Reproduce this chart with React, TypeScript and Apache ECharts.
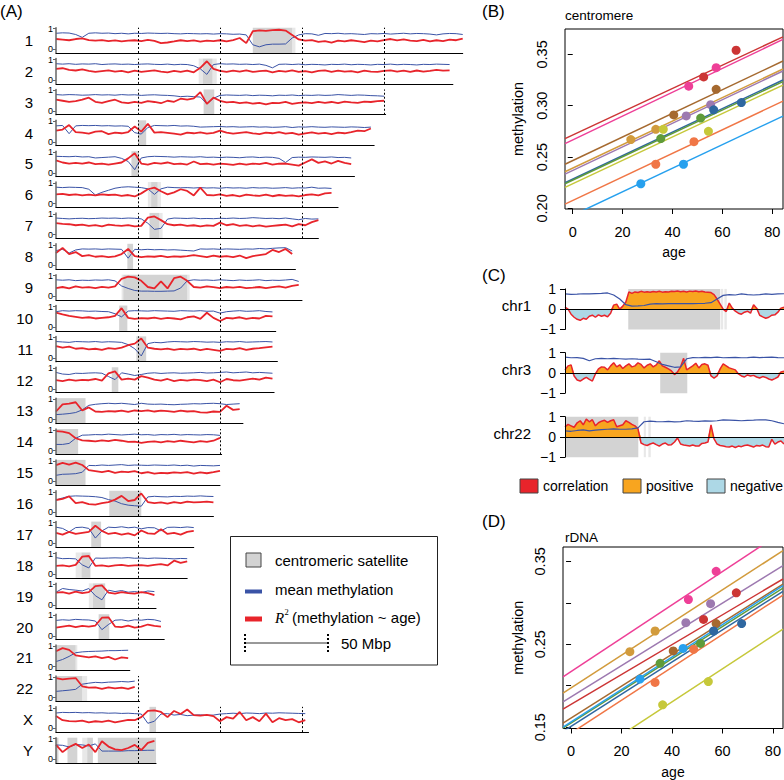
import React, { useEffect, useRef } from 'react';
import * as echarts from 'echarts';

const FONT = '"Liberation Sans", Arial, Helvetica, sans-serif';
const RED = '#e8242b';
const BLUE = '#3a53a6';
const GREY = '#d3d3d3';
const FAINT = '#e8e8e8';
const ORANGE = '#f8a51f';
const LIGHTBLUE = '#add8e6';

// ---------------- Panel A : chromosome tracks ----------------
const chromNames = ['1','2','3','4','5','6','7','8','9','10','11','12','13','14','15','16','17','18','19','20','21','22','X','Y'];
const chromLengthsMbp = [248,242,201,194,182,172,160,146,150,134,135,133,114,101,100,96,84,80,61,66,45,51,154,61];
const binMbp = 4;
const scaleMarksMbp = [50, 100, 150, 200];

// R^2 (methylation ~ age), percent, one value per 4-Mbp bin
const r2Percent: number[][] = [
  [50,47,44,50,53,45,42,45,40,43,38,42,44,40,46,41,30,33,38,44,40,43,37,42,40,44,38,45,55,30,88,92,90,93,95,91,70,48,42,45,36,40,33,42,38,44,40,35,42,38,45,50,43,48,42,40,46,38,44,40,47,44,52],
  [55,58,50,47,52,45,40,44,48,42,45,38,46,40,44,48,42,38,45,40,46,38,60,92,55,45,40,46,42,48,40,44,46,38,45,42,48,40,44,38,45,48,40,46,42,44,38,46,42,40,45,48,42,46,40,47,42,45,50,46,48],
  [55,50,45,48,55,65,45,40,48,55,42,38,45,40,48,44,38,50,45,60,55,62,92,35,65,50,42,45,38,42,36,40,32,40,38,44,35,40,42,38,45,40,44,38,46,42,40,46,44,48,50],
  [55,60,82,48,45,40,50,52,38,45,42,48,75,50,88,45,48,44,40,35,45,42,46,40,44,55,45,40,44,48,42,38,45,42,48,40,44,35,42,46,40,44,38,45,42,48,55,52,65],
  [60,50,45,48,44,50,42,45,40,45,50,70,95,45,40,48,44,50,42,45,40,55,42,44,40,45,42,38,44,40,45,42,48,40,44,45,40,35,50,65,48,55,45,58,48,42],
  [45,48,42,45,40,44,40,45,42,44,38,42,35,50,70,78,60,45,55,70,62,40,78,42,40,45,38,42,35,44,40,38,44,36,42,38,40,35,42,45,40,50,52],
  [55,52,50,45,48,42,46,40,48,44,42,46,40,42,82,88,70,50,45,48,42,45,40,44,42,58,45,50,42,46,40,44,38,42,45,48,40,50,45,60,70],
  [60,85,55,65,45,50,42,45,40,44,55,80,45,40,44,42,46,40,44,42,45,50,45,40,48,42,45,40,48,35,45,50,55,75,65,80,55],
  [40,45,38,48,42,44,40,46,42,48,85,95,92,75,45,38,72,38,88,95,75,45,42,48,44,40,45,42,46,40,42,45,40,44,48,42,50,55],
  [70,62,55,50,45,48,42,45,48,55,92,45,40,44,42,46,40,45,42,38,48,52,40,70,45,30,45,42,48,40,45,42,55,52],
  [58,50,55,45,48,42,45,40,48,44,50,62,70,95,50,45,42,46,40,44,42,45,38,44,40,35,44,42,48,40,45,48,52,55],
  [42,38,45,40,44,42,48,40,75,85,45,50,45,62,55,45,40,48,38,44,40,45,42,38,45,32,48,42,40,45,50,45,55,50],
  [40,75,78,85,45,60,40,38,42,40,44,38,45,42,46,40,44,42,38,44,40,42,36,35,40,38,68,48,52],
  [95,92,85,60,50,48,45,50,46,52,48,42,44,38,42,45,40,46,42,48,44,40,46,42,48,62],
  [80,90,82,92,80,55,50,45,52,42,48,45,50,40,45,38,42,40,44,42,45,38,44,40,45,52],
  [60,65,78,45,50,40,38,45,50,62,80,55,60,92,50,45,48,42,50,45,52,48,50,52,48],
  [50,42,55,45,50,55,85,60,45,50,42,48,38,62,48,45,68,45,50,42,55,60],
  [40,42,38,45,85,88,40,42,38,42,45,40,42,44,40,45,48,42,65,55,62],
  [60,62,55,65,58,62,92,95,60,55,62,58,55,62,58,48],
  [40,45,50,42,48,45,50,88,90,45,42,50,40,45,55,48,45],
  [75,90,82,55,50,45,50,42,48,35,45,42],
  [95,88,92,95,55,48,50,42,50,45,48,42,52],
  [60,40,36,34,38,30,35,32,38,30,36,42,40,55,85,88,80,55,85,70,92,65,62,66,60,35,55,48,80,40,55,35,72,30,50,40,45,30,40],
  [70,35,60,75,55,72,35,88,62,48,45,55,70,45,80,90],
];

// mean methylation, percent, one value per 4-Mbp bin
const methPercent: number[][] = [
  [78,80,79,72,58,78,80,78,79,76,78,75,78,77,79,78,77,78,76,75,77,76,75,76,74,76,75,73,74,70,22,12,22,25,25,26,55,70,76,75,68,77,76,78,75,76,74,72,76,75,77,74,76,78,75,77,76,74,70,75,77,76,72],
  [80,78,80,77,79,78,80,76,78,79,77,78,76,78,79,77,76,78,75,77,76,70,55,28,76,80,78,79,77,78,76,78,72,60,77,78,76,78,75,77,76,74,77,76,78,75,77,76,74,77,76,78,75,77,76,74,77,76,78,77,76],
  [80,78,80,79,77,78,80,78,79,77,80,78,79,76,78,79,77,76,74,70,72,70,68,35,62,76,78,77,76,78,75,77,76,74,77,76,78,75,77,76,78,76,77,80,78,76,78,77,75,74,72],
  [78,80,40,78,80,79,80,78,79,77,78,76,45,38,70,80,79,78,80,77,78,76,72,73,74,75,73,74,72,73,74,72,73,71,72,74,70,73,72,74,72,71,73,72,71,73,72,70,72],
  [80,79,78,80,77,78,72,74,76,78,70,55,15,72,78,80,79,78,76,78,77,76,78,75,76,74,76,75,73,76,77,74,76,75,70,50,74,76,75,77,76,75,77,74,75,72],
  [80,78,80,79,78,70,42,55,65,75,80,82,80,78,72,45,72,80,78,77,78,76,78,76,77,75,78,76,77,75,78,76,77,75,76,78,75,77,76,80,75,76,74],
  [80,78,76,78,79,77,78,80,79,80,78,80,79,76,55,25,30,75,80,79,78,80,77,78,77,79,78,80,78,79,82,80,78,79,77,80,76,72,78,75,76],
  [72,78,60,75,80,79,80,78,80,79,78,35,78,76,78,76,77,75,76,74,72,70,80,79,80,78,80,79,78,80,79,82,80,83,85,86,70],
  [80,78,80,76,78,77,79,78,80,75,50,38,28,25,25,24,24,25,26,40,75,80,78,79,77,80,78,76,79,77,78,80,76,78,77,79,82,72],
  [75,80,78,80,79,77,78,76,75,65,50,78,80,79,78,80,79,78,77,80,79,78,80,77,78,68,75,78,80,77,78,80,76,74],
  [80,78,76,80,79,78,80,77,79,78,76,65,45,10,70,76,74,78,80,79,78,80,79,77,78,76,79,78,80,77,78,79,80,78],
  [80,72,70,76,75,77,78,76,60,45,78,72,65,70,76,78,75,77,78,76,77,78,80,77,78,80,82,78,80,82,78,80,78,76],
  [25,27,30,35,48,70,75,78,80,78,80,77,74,80,76,75,76,74,73,75,76,78,77,79,80,78,74,76,78],
  [30,30,35,60,75,76,78,77,80,78,76,78,80,77,78,75,78,77,79,76,78,77,76,78,77,74],
  [30,35,36,38,45,78,77,80,78,80,82,78,80,79,78,80,79,78,80,77,79,75,78,77,76,78],
  [60,70,78,80,79,78,76,72,62,55,42,35,32,30,75,78,76,75,78,77,79,78,80,78,77],
  [78,72,55,76,78,72,25,60,78,76,80,75,78,70,76,75,60,77,78,76,79,76],
  [80,75,76,74,45,30,78,77,78,79,78,80,77,78,76,78,77,76,74,76,75],
  [62,80,75,72,68,80,45,25,72,65,70,62,65,60,68,65],
  [75,78,76,80,78,77,72,30,55,76,78,72,78,76,80,78,70],
  [25,35,50,68,72,74,75,76,78,78,79,80],
  [30,33,36,40,65,70,74,72,75,76,78,76,80],
  [75,78,77,78,76,77,75,76,74,75,73,74,72,70,25,35,70,72,65,68,62,65,66,64,65,70,72,74,72,75,74,72,75,74,76,75,74,73,72],
  [70,68,60,72,70,65,75,40,40,40,40,42,42,43,44,44],
];

// centromeric satellite intervals (Mbp)
const satellites: number[][][] = [
  [[120,144]],[[89.5,95.5]],[[90,96.5]],[[50,55]],[[46,50.5]],[[58,62]],[[57,63]],[[43.5,47]],
  [[41,80]],[[38.5,43.5]],[[49,55]],[[34,38]],[[0,18]],[[0,13.5]],[[0,18]],[[32.5,52]],
  [[21.5,27.5]],[[15.5,21]],[[22.5,30]],[[26,32.5]],[[0,12]],[[0,16]],[[57,61]],
  [[0,1.5],[7,13],[19,22.5],[25.5,61]],
];
const satellitesFaint: number[][][] = [
  [[144,146]],[[87,89.5],[95.5,98]],[],[],[],[[56,58],[62,64]],[[63,65]],[],
  [[40,41],[80,81.5]],[],[],[],[],[],[],[],
  [],[[12,15.5]],[[20,22.5]],[],[[12,13]],[[16,19]],[],
  [[16,19]],
];

// ---------------- Panels B & D : individuals ----------------
const individualColors = ['#cc3535','#ee3f97','#a5692f','#d29b3c','#9d79b0','#2f67a0','#5f9b3a','#c6c83a','#f07646','#26a0ee'];
const sampleAges = [[52.5,65.5],[46.5,57.5],[40.5,57.5],[23.3,33.3],[45.5,55.3],[56.5,67.6],[35.3,51.3],[36.3,54.4],[33.3,48.6],[27.3,44.4]];
const centromereMeth = [[0.328,0.354],[0.319,0.337],[0.291,0.316],[0.267,0.277],[0.290,0.301],[0.296,0.303],[0.268,0.288],[0.277,0.275],[0.243,0.265],[0.224,0.243]];
const centromereFitAtEdges = [[0.268,0.367],[0.263,0.3646],[0.243,0.3435],[0.2357,0.3357],[0.2334,0.3338],[0.225,0.325],[0.224,0.3235],[0.2205,0.3201],[0.2042,0.3045],[0.1897,0.2899]];
const rdnaMeth = [[0.280,0.312],[0.304,0.338],[0.242,0.275],[0.241,0.266],[0.276,0.299],[0.266,0.275],[0.227,0.251],[0.177,0.205],[0.204,0.244],[0.208,0.245]];
const rdnaFitAtEdges = [[0.1717,0.3287],[0.2108,0.3859],[0.1548,0.3226],[0.1910,0.3629],[0.1806,0.3448],[0.1448,0.3138],[0.1488,0.3178],[0.0944,0.2683],[0.1365,0.3094],[0.150,0.3206]];
const ageTicks = [0, 20, 40, 60, 80];
const centTicks = [0.20, 0.25, 0.30, 0.35];
const rdnaTicks = [0.15, 0.20, 0.25, 0.30, 0.35];
const rdnaLabelTicks = [0.15, 0.25, 0.35];

// ---------------- Panel C : zoomed regions ----------------
const cRegionNames = ['chr1', 'chr3', 'chr22'];
const cCorrelationPct: number[][] = [
  [10,0,-25,-40,-50,-55,-45,-50,-35,-30,-40,-28,-35,-30,-38,-20,20,25,0,15,35,85,78,85,82,88,84,86,83,87,85,88,84,86,85,88,87,90,86,88,85,89,87,90,86,88,85,84,82,72,50,25,0,-12,30,5,-10,-20,-25,-15,-10,-20,22,5,-30,-38,-45,-40,-30,-28,-15,5,10],
  [15,35,40,-15,-35,-40,-30,-22,-32,-40,-5,20,30,28,15,35,50,30,40,22,35,45,30,35,50,42,25,38,45,30,40,60,35,28,20,10,-8,5,30,72,15,25,35,48,25,42,45,38,-15,-25,-15,20,45,35,25,20,15,-5,-15,-20,-10,-15,-12,-20,-25,-18,-22,-30,-35,-28,-20,5,8],
  [50,62,55,48,70,80,60,88,75,85,55,70,78,82,72,80,85,50,55,60,80,72,62,55,40,-30,-38,-42,-35,-30,-38,-45,-35,-30,-40,-38,-25,-5,-35,-40,-42,-45,-40,-45,-45,-32,-30,-25,60,-10,-35,-42,-45,-48,-50,-45,-52,-45,-48,-42,-40,-45,-50,-42,-45,-40,-48,-50,-12,-35,-25,-20,-35],
];
const cMethPct: number[][] = [
  [75,73,74,76,75,77,78,80,70,50,22,15,16,18,25,27,26,27,28,27,28,27,28,29,32,50,68,72,70,75,72,70,72,75,73,75,76],
  [78,75,76,72,60,70,72,70,72,70,68,70,68,67,68,55,42,35,28,30,70,76,75,77,76,78,75,76,77,75,76,78,76,77,78,76,75],
  [30,28,32,35,30,34,36,38,40,38,38,40,45,75,78,76,75,77,74,76,80,78,77,79,78,80,84,83,82,80,82,83,85,84,80,72,65],
];
const cSatellites: number[][][] = [[[20.8,51]], [[31.3,40.2]], [[0,24.1]]];
const cSatellitesFaint: number[][][] = [[[51.2,52],[52.4,53.2]], [], [[25.9,26.6],[27.4,28.2]]];

function buildOption() {
  const grid: any[] = [];
  const xAxis: any[] = [];
  const yAxis: any[] = [];
  const series: any[] = [];
  const graphic: any[] = [];

  const txt = (x: number, y: number, text: string, size: number, extra: any = {}) => ({
    type: 'text', x, y, z: 100, silent: true,
    style: { text, fontSize: size, fontFamily: FONT, fill: '#000', align: 'left', verticalAlign: 'middle', ...extra },
  });

  // ---- Panel A
  const A_LEFT = 56, PX_PER_MBP = 1.64, FIRST_BOTTOM = 53, PITCH = 30.87, H = 25.3;
  chromLengthsMbp.forEach((L, k) => {
    const bottom = FIRST_BOTTOM + k * PITCH;
    grid.push({ left: A_LEFT, top: bottom - H, width: L * PX_PER_MBP, height: H, outerBoundsMode: 'none' });
    xAxis.push({
      gridIndex: k, type: 'value', min: 0, max: L, z: 5,
      axisLine: { show: true, onZero: false, lineStyle: { color: '#000', width: 1 } },
      axisTick: { show: false }, axisLabel: { show: false }, splitLine: { show: false },
    });
    yAxis.push({
      gridIndex: k, type: 'value', min: -0.18, max: 1.05, z: 5,
      axisLine: { show: true, lineStyle: { color: '#666', width: 1.5 } },
      axisTick: { show: true, customValues: [0, 1], length: 3, lineStyle: { color: '#666' } },
      axisLabel: { show: true, customValues: [0, 1], fontSize: 9, margin: 3, color: '#000', fontFamily: FONT },
      splitLine: { show: false },
    });
    const areas = [
      ...satellitesFaint[k].map(([a, b]) => [{ xAxis: a, itemStyle: { color: FAINT } }, { xAxis: b }]),
      ...satellites[k].map(([a, b]) => [{ xAxis: a, itemStyle: { color: GREY } }, { xAxis: b }]),
    ];
    series.push({
      type: 'line', xAxisIndex: k, yAxisIndex: k, silent: true, symbol: 'none', z: 2,
      data: methPercent[k].map((v, i) => [i * binMbp, v / 100]),
      lineStyle: { color: BLUE, width: 1 },
      markArea: { silent: true, data: areas },
      markLine: {
        silent: true, symbol: 'none', label: { show: false },
        lineStyle: { color: '#000', width: 1, type: [2, 2] },
        data: scaleMarksMbp.filter((m) => m < L).map((m) => ({ xAxis: m })),
      },
    });
    series.push({
      type: 'line', xAxisIndex: k, yAxisIndex: k, silent: true, symbol: 'none', z: 3,
      data: r2Percent[k].map((v, i) => [i * binMbp, v / 100]),
      lineStyle: { color: RED, width: 1.8 },
    });
    graphic.push(txt(33, bottom - 12.5, chromNames[k], 15, { align: 'right' }));
  });

  // ---- Panels B and D
  const scatterPanel = (gi: number, box: any, xr: number[], yr: number[], yTicks: number[], yLabels: number[],
    meth: number[][], fits: number[][], nameGapY: number) => {
    grid.push({ ...box, show: true, borderColor: '#000', borderWidth: 1, outerBoundsMode: 'none' });
    xAxis.push({
      gridIndex: gi, type: 'value', min: xr[0], max: xr[1],
      axisLine: { show: false },
      axisTick: { show: true, customValues: ageTicks, length: 5, lineStyle: { color: '#000' } },
      axisLabel: { show: true, customValues: ageTicks, fontSize: 14.5, margin: 15, color: '#000', fontFamily: FONT },
      splitLine: { show: false },
      name: 'age', nameLocation: 'middle', nameGap: 36,
      nameTextStyle: { fontSize: 14, color: '#000', fontFamily: FONT },
    });
    yAxis.push({
      gridIndex: gi, type: 'value', min: yr[0], max: yr[1],
      axisLine: { show: false },
      axisTick: { show: true, customValues: yTicks, length: 5, lineStyle: { color: '#000' } },
      axisLabel: { show: true, customValues: yLabels, rotate: 90, fontSize: 14.5, margin: 16, color: '#000', fontFamily: FONT,
        formatter: (v: number) => v.toFixed(2) },
      splitLine: { show: false },
      name: 'methylation', nameLocation: 'middle', nameGap: nameGapY, nameRotate: 90,
      nameTextStyle: { fontSize: 14.5, color: '#000', fontFamily: FONT },
    });
    individualColors.forEach((c, j) => {
      series.push({
        type: 'line', xAxisIndex: gi, yAxisIndex: gi, silent: true, symbol: 'none', z: 2,
        data: [[xr[0], fits[j][0]], [xr[1], fits[j][1]]],
        lineStyle: { color: c, width: 1.5 },
      });
      series.push({
        type: 'scatter', xAxisIndex: gi, yAxisIndex: gi, silent: true, z: 3,
        data: sampleAges[j].map((a, i) => [a, meth[j][i]]),
        symbolSize: 9, itemStyle: { color: c, opacity: 1 },
      });
    });
  };
  scatterPanel(24, { left: 565, top: 29, width: 218, height: 180 }, [-3.1, 84.3], [0.1994, 0.3747],
    centTicks, centTicks, centromereMeth, centromereFitAtEdges, 40);
  scatterPanel(25, { left: 563, top: 547, width: 220, height: 181.5 }, [-3.2, 84.0], [0.1484, 0.3673],
    rdnaTicks, rdnaLabelTicks, rdnaMeth, rdnaFitAtEdges, 38);

  // ---- Panel C
  const cTops = [288.9, 352.7, 416.7];
  cRegionNames.forEach((name, r) => {
    const gi = 26 + r;
    grid.push({ left: 565, top: cTops[r], width: 219, height: 40.5, outerBoundsMode: 'none' });
    xAxis.push({
      gridIndex: gi, type: 'value', min: 0, max: 72, z: 5,
      axisLine: { show: true, onZero: true, lineStyle: { color: '#000', width: 1 } },
      axisTick: { show: false }, axisLabel: { show: false }, splitLine: { show: false },
    });
    yAxis.push({
      gridIndex: gi, type: 'value', min: -1, max: 1, z: 5,
      axisLine: { show: true, lineStyle: { color: '#000', width: 1 } },
      axisTick: { show: true, customValues: [-1, 0, 1], length: 5, lineStyle: { color: '#000' } },
      axisLabel: { show: true, customValues: [-1, 0, 1], fontSize: 14, margin: 9, color: '#000', fontFamily: FONT,
        formatter: (v: number) => (v < 0 ? '\u22121' : String(v)) },
      splitLine: { show: false },
    });
    const vals = cCorrelationPct[r];
    const areas = [
      ...cSatellitesFaint[r].map(([a, b]) => [{ xAxis: a, itemStyle: { color: FAINT } }, { xAxis: b }]),
      ...cSatellites[r].map(([a, b]) => [{ xAxis: a, itemStyle: { color: GREY } }, { xAxis: b }]),
    ];
    series.push({
      type: 'line', xAxisIndex: gi, yAxisIndex: gi, silent: true, symbol: 'none', z: 2,
      data: vals.map((v, i) => [i, Math.max(v, 0) / 100]),
      lineStyle: { width: 0, opacity: 0 }, areaStyle: { color: ORANGE, opacity: 1 },
      markArea: { silent: true, data: areas },
    });
    series.push({
      type: 'line', xAxisIndex: gi, yAxisIndex: gi, silent: true, symbol: 'none', z: 2,
      data: vals.map((v, i) => [i, Math.min(v, 0) / 100]),
      lineStyle: { width: 0, opacity: 0 }, areaStyle: { color: LIGHTBLUE, opacity: 1 },
    });
    series.push({
      type: 'line', xAxisIndex: gi, yAxisIndex: gi, silent: true, symbol: 'none', z: 3,
      data: vals.map((v, i) => [i, v / 100]),
      lineStyle: { color: RED, width: 1.5 },
    });
    series.push({
      type: 'line', xAxisIndex: gi, yAxisIndex: gi, silent: true, symbol: 'none', z: 4,
      data: cMethPct[r].map((v, i) => [i * 2, v / 100]),
      lineStyle: { color: BLUE, width: 1.2 },
    });
    graphic.push(txt(531, cTops[r] + 16.5, name, 15, { align: 'right' }));
  });

  // ---- Panel labels / titles
  graphic.push(txt(0, 11, '(A)', 17));
  graphic.push(txt(482, 11, '(B)', 17));
  graphic.push(txt(565, 15, 'centromere', 13.5));
  graphic.push(txt(482, 275, '(C)', 17));
  graphic.push(txt(482, 521, '(D)', 17));
  graphic.push(txt(565, 537, 'rDNA', 13.5));

  // ---- Legend of C
  const cLeg = [[520, RED, 'correlation'], [623, ORANGE, 'positive'], [707, LIGHTBLUE, 'negative']] as [number, string, string][];
  cLeg.forEach(([x, c, t]) => {
    graphic.push({ type: 'rect', z: 100, silent: true, shape: { x, y: 479, width: 18, height: 14 }, style: { fill: c, stroke: '#444', lineWidth: 1 } });
    graphic.push(txt(x + 23, 486, t, 14));
  });

  // ---- Legend of A
  graphic.push({ type: 'rect', z: 90, silent: true, shape: { x: 230.5, y: 536.5, width: 207, height: 128.5 }, style: { fill: '#fff', stroke: '#222', lineWidth: 1 } });
  graphic.push({ type: 'rect', z: 100, silent: true, shape: { x: 246, y: 553, width: 15, height: 14 }, style: { fill: GREY, stroke: '#444', lineWidth: 1 } });
  graphic.push(txt(275, 560, 'centromeric satellite', 15));
  graphic.push({ type: 'rect', z: 100, silent: true, shape: { x: 245, y: 589.5, width: 17, height: 4 }, style: { fill: BLUE } });
  graphic.push(txt(275, 589, 'mean methylation', 15));
  graphic.push({ type: 'rect', z: 100, silent: true, shape: { x: 245, y: 616.5, width: 17, height: 5 }, style: { fill: RED } });
  graphic.push(txt(275, 618, 'R', 15, { fontFamily: '"Liberation Serif", "Times New Roman", serif', fontStyle: 'italic' }));
  graphic.push(txt(284.5, 612, '2', 8.5, { fontFamily: '"Liberation Serif", "Times New Roman", serif' }));
  graphic.push(txt(292, 617, '(methylation ~ age)', 15));
  graphic.push({ type: 'line', z: 100, silent: true, shape: { x1: 245, y1: 643, x2: 328, y2: 643 }, style: { stroke: '#333', lineWidth: 1 } });
  graphic.push({ type: 'line', z: 100, silent: true, shape: { x1: 245, y1: 634, x2: 245, y2: 652 }, style: { stroke: '#000', lineWidth: 2, lineDash: [2, 2] } });
  graphic.push({ type: 'line', z: 100, silent: true, shape: { x1: 328, y1: 634, x2: 328, y2: 652 }, style: { stroke: '#000', lineWidth: 2, lineDash: [2, 2] } });
  graphic.push(txt(341, 643, '50 Mbp', 15));

  return {
    animation: false,
    backgroundColor: '#fff',
    textStyle: { fontFamily: FONT },
    grid, xAxis, yAxis, series, graphic,
  };
}

export default function App() {
  const ref = useRef<HTMLDivElement>(null);
  useEffect(() => {
    document.body.style.margin = '0';
    const chart = echarts.init(ref.current!, null, { renderer: 'svg' });
    chart.setOption(buildOption());
    return () => chart.dispose();
  }, []);
  return <div ref={ref} style={{ width: 784, height: 780 }} />;
}
